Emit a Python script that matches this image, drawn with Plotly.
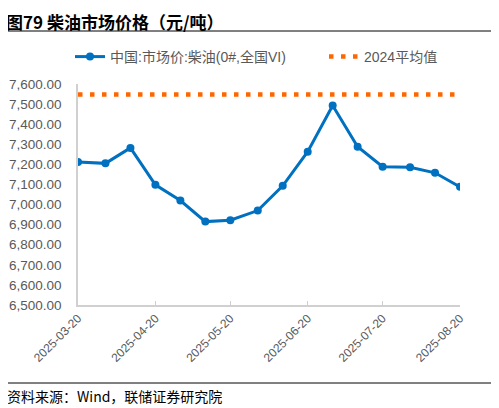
import plotly.graph_objects as go

# 10-day diesel price series, yuan/ton
dates = ["2025-03-20", "2025-03-31", "2025-04-10", "2025-04-20", "2025-04-30",
         "2025-05-10", "2025-05-20", "2025-05-31", "2025-06-10", "2025-06-20",
         "2025-06-30", "2025-07-10", "2025-07-20", "2025-07-31", "2025-08-10",
         "2025-08-20"]
diesel = [7212, 7205, 7282, 7098, 7020, 6915, 6922, 6970, 7093, 7263,
          7493, 7288, 7188, 7186, 7158, 7088]
avg_2024 = [7548] * len(dates)

tick_dates = ["2025-03-20", "2025-04-20", "2025-05-20", "2025-06-20",
              "2025-07-20", "2025-08-20"]

name_main = "中国:市场价:柴油(0#,全国VI)"
name_avg = "2024平均值"

FONT = "Arial, Liberation Sans, Noto Sans CJK SC"
GRAY = "#595959"

# plot box in px (page body has an 8px margin)
PW, PH = 382, 221

fig = go.Figure()
fig.add_trace(go.Scatter(
    x=dates, y=diesel, name=name_main, mode="lines+markers",
    line=dict(color="#0070C0", width=3),
    marker=dict(color="#0070C0", size=8),
    legend="legend",
))
fig.add_trace(go.Scatter(
    x=dates, y=avg_2024, name=name_avg, mode="lines",
    line=dict(color="#FF6600", width=4.5, dash="4.5px,7.5px"),
    legend="legend2",
))

leg_common = dict(orientation="h", xanchor="left", y=1 + 27 / PH, yanchor="middle",
                  font=dict(size=14, color=GRAY), bgcolor="rgba(0,0,0,0)")

fig.update_layout(
    width=491, height=400,
    margin=dict(l=70, r=39, t=76, b=103, autoexpand=False),
    paper_bgcolor="white", plot_bgcolor="white",
    font=dict(family=FONT, color=GRAY, size=13),
    showlegend=True,
    legend=dict(x=(70 - 78) / PW, **leg_common),
    legend2=dict(x=(324 - 78) / PW, **leg_common),
    xaxis=dict(
        type="date", range=["2025-03-20", "2025-08-20"],
        tickvals=tick_dates, tickformat="%Y-%m-%d", tickangle=-45,
        showline=True, linecolor="#D0D0D0", linewidth=1.5,
        ticks="inside", ticklen=4, tickcolor="#D0D0D0",
        showgrid=False, zeroline=False,
        tickfont=dict(size=12, color=GRAY),
    ),
    yaxis=dict(
        range=[6500, 7600], dtick=100, tickformat=",.2f",
        showline=True, linecolor="#D0D0D0", linewidth=1.5,
        showgrid=False, zeroline=False, ticks="",
        ticklabelstandoff=12,
        tickfont=dict(size=13.5, color=GRAY),
    ),
)

fig.add_annotation(
    text="<b>图79 柴油市场价格（元/吨）</b>", xref="paper", yref="paper",
    x=-73 / PW, y=1 + 76 / PH, xanchor="left", yanchor="top", showarrow=False,
    borderpad=0,
    font=dict(family="Noto Sans CJK SC", size=17, color="black"),
)
fig.add_annotation(
    text="资料来源：Wind，联储证券研究院", xref="paper", yref="paper",
    x=-73 / PW, y=-91 / PH, xanchor="left", yanchor="middle", showarrow=False,
    font=dict(family="Noto Sans CJK SC", size=14, color="black"),
)
fig.add_shape(type="line", xref="paper", yref="paper",
              x0=-73 / PW, x1=1 + 33 / PW, y0=1 + 53 / PH, y1=1 + 53 / PH,
              line=dict(color="black", width=1))
fig.add_shape(type="line", xref="paper", yref="paper",
              x0=-73 / PW, x1=1 + 33 / PW, y0=-78 / PH, y1=-78 / PH,
              line=dict(color="black", width=1))

fig.write_html("out.html")
